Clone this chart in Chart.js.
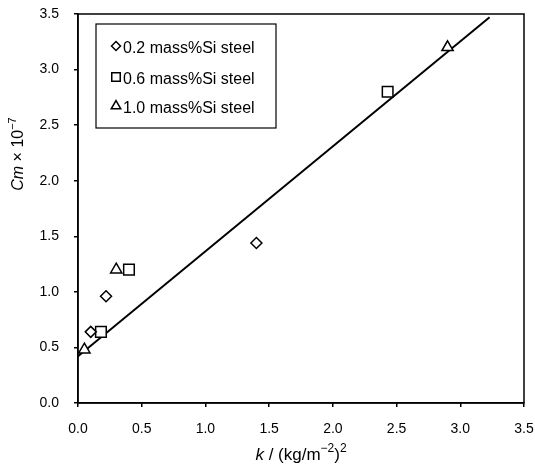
<!DOCTYPE html>
<html>
<head>
<meta charset="utf-8">
<script src="https://cdn.jsdelivr.net/npm/chart.js@4/dist/chart.umd.min.js"></script>
<style>
  html, body { margin: 0; padding: 0; background: #fff; }
  #wrap { width: 535px; height: 472px; position: relative; }
</style>
</head>
<body>
<div id="wrap"><canvas id="chart"></canvas></div>
<script>
// Data
const si02X = [0.10, 0.22, 1.40];
const si02Y = [0.64, 0.96, 1.44];
const si06X = [0.18, 0.40, 2.43];
const si06Y = [0.64, 1.20, 2.80];
const si10X = [0.05, 0.30, 2.90];
const si10Y = [0.48, 1.20, 3.20];
const fitX = [0.0, 3.23];
const fitY = [0.42, 3.47];

const seriesLabels = ['0.2 mass%Si steel', '0.6 mass%Si steel', '1.0 mass%Si steel'];
const tickValues = [0, 0.5, 1, 1.5, 2, 2.5, 3, 3.5];

const toPoints = (xs, ys) => xs.map((x, i) => ({ x: x, y: ys[i] }));

const FONT = 'Liberation Sans, Arial, sans-serif';

// Frame around the plot area + custom legend + axis titles
const decorPlugin = {
    id: 'decor',
    afterDraw(chart) {
        const ctx = chart.ctx;
        const a = chart.chartArea;
        ctx.save();
        ctx.strokeStyle = '#000';
        ctx.lineWidth = 1.5;
        ctx.strokeRect(a.left, a.top, a.right - a.left, a.bottom - a.top);

        // legend box
        ctx.lineWidth = 1.2;
        ctx.fillStyle = '#fff';
        ctx.fillRect(96, 24, 180, 104);
        ctx.strokeRect(96, 24, 180, 104);
        const styles = ['rectRot', 'rect', 'triangle'];
        const radii = [4.5, 6, 5.5];
        const rowsY = [49, 80, 109];
        ctx.textBaseline = 'middle';
        ctx.textAlign = 'left';
        ctx.font = '16px ' + FONT;
        rowsY.forEach((y, i) => {
            ctx.strokeStyle = '#000';
            ctx.fillStyle = '#fff';
            ctx.lineWidth = 1.5;
            Chart.helpers.drawPoint(ctx, { pointStyle: styles[i], radius: radii[i], rotation: 0, borderWidth: 1.5 }, 116, y - 3);
            ctx.fillStyle = '#000';
            ctx.fillText(seriesLabels[i], 123, y);
        });

        // x title: k / (kg/m^-2)^2
        drawRich(ctx, [
            { t: 'k', style: 'italic ', size: 17, dy: 0 },
            { t: ' / (kg/m', style: '', size: 17, dy: 0 },
            { t: '\u22122', style: '', size: 12, dy: -6 },
            { t: ')', style: '', size: 17, dy: 0 },
            { t: '2', style: '', size: 12, dy: -6 }
        ], (a.left + a.right) / 2, 455, 0);

        // y title: Cm x 10^-7
        drawRich(ctx, [
            { t: 'Cm', style: 'italic ', size: 16, dy: 0 },
            { t: ' \u00d7 10', style: '', size: 16, dy: 0 },
            { t: '\u22127', style: '', size: 11, dy: -6 }
        ], 19, 154, -Math.PI / 2);
        ctx.restore();
    }
};

function drawRich(ctx, parts, cx, cy, rot) {
    let total = 0;
    parts.forEach(p => {
        ctx.font = p.style + p.size + 'px ' + FONT;
        p.w = ctx.measureText(p.t).width;
        total += p.w;
    });
    ctx.save();
    ctx.translate(cx, cy);
    ctx.rotate(rot);
    ctx.fillStyle = '#000';
    ctx.textBaseline = 'middle';
    ctx.textAlign = 'left';
    let x = -total / 2;
    parts.forEach(p => {
        ctx.font = p.style + p.size + 'px ' + FONT;
        ctx.fillText(p.t, x, p.dy);
        x += p.w;
    });
    ctx.restore();
}

const markerBase = {
    showLine: false,
    borderColor: '#000',
    backgroundColor: '#fff',
    borderWidth: 1.5,
    pointBorderWidth: 1.5
};

const ctx = document.getElementById('chart');
const chart = new Chart(ctx.getContext('2d'), {
    type: 'scatter',
    data: {
        datasets: [
            Object.assign({}, markerBase, { label: seriesLabels[0], data: toPoints(si02X, si02Y), pointStyle: 'rectRot', pointRadius: 5.5, order: 1 }),
            Object.assign({}, markerBase, { label: seriesLabels[1], data: toPoints(si06X, si06Y), pointStyle: 'rect', pointRadius: 7.5, order: 1 }),
            Object.assign({}, markerBase, { label: seriesLabels[2], data: toPoints(si10X, si10Y), pointStyle: 'triangle', pointRadius: 6.5, order: 1 }),
            {
                label: 'fit',
                data: toPoints(fitX, fitY),
                showLine: true,
                borderColor: '#000',
                borderWidth: 2,
                pointRadius: 0,
                fill: false,
                order: 2
            }
        ]
    },
    options: {
        responsive: true,
        maintainAspectRatio: false,
        animation: false,
        layout: { padding: { top: 14, right: 11, left: 0, bottom: 0 } },
        plugins: {
            legend: { display: false },
            tooltip: { enabled: false }
        },
        scales: {
            x: {
                type: 'linear',
                min: 0,
                max: 3.5,
                afterBuildTicks: (scale) => { scale.ticks = tickValues.map(v => ({ value: v })); },
                afterFit: (scale) => { scale.height = 69; scale.paddingLeft = 0; scale.paddingRight = 0; },
                border: { display: true, color: '#000', width: 1.5 },
                grid: { drawOnChartArea: false, drawTicks: true, tickLength: 4, color: '#000', lineWidth: 1.5 },
                ticks: {
                    padding: 14,
                    color: '#000',
                    font: { family: FONT, size: 14 },
                    maxRotation: 0,
                    callback: (v) => v.toFixed(1)
                }
            },
            y: {
                type: 'linear',
                min: 0,
                max: 3.5,
                afterBuildTicks: (scale) => { scale.ticks = tickValues.map(v => ({ value: v })); },
                afterFit: (scale) => { scale.width = 78; scale.paddingTop = 0; scale.paddingBottom = 0; },
                border: { display: true, color: '#000', width: 1.5 },
                grid: { drawOnChartArea: false, drawTicks: true, tickLength: 4, color: '#000', lineWidth: 1.5 },
                ticks: {
                    padding: 15,
                    color: '#000',
                    font: { family: FONT, size: 14 },
                    callback: (v) => v.toFixed(1)
                }
            }
        }
    },
    plugins: [decorPlugin]
});
</script>
</body>
</html>
